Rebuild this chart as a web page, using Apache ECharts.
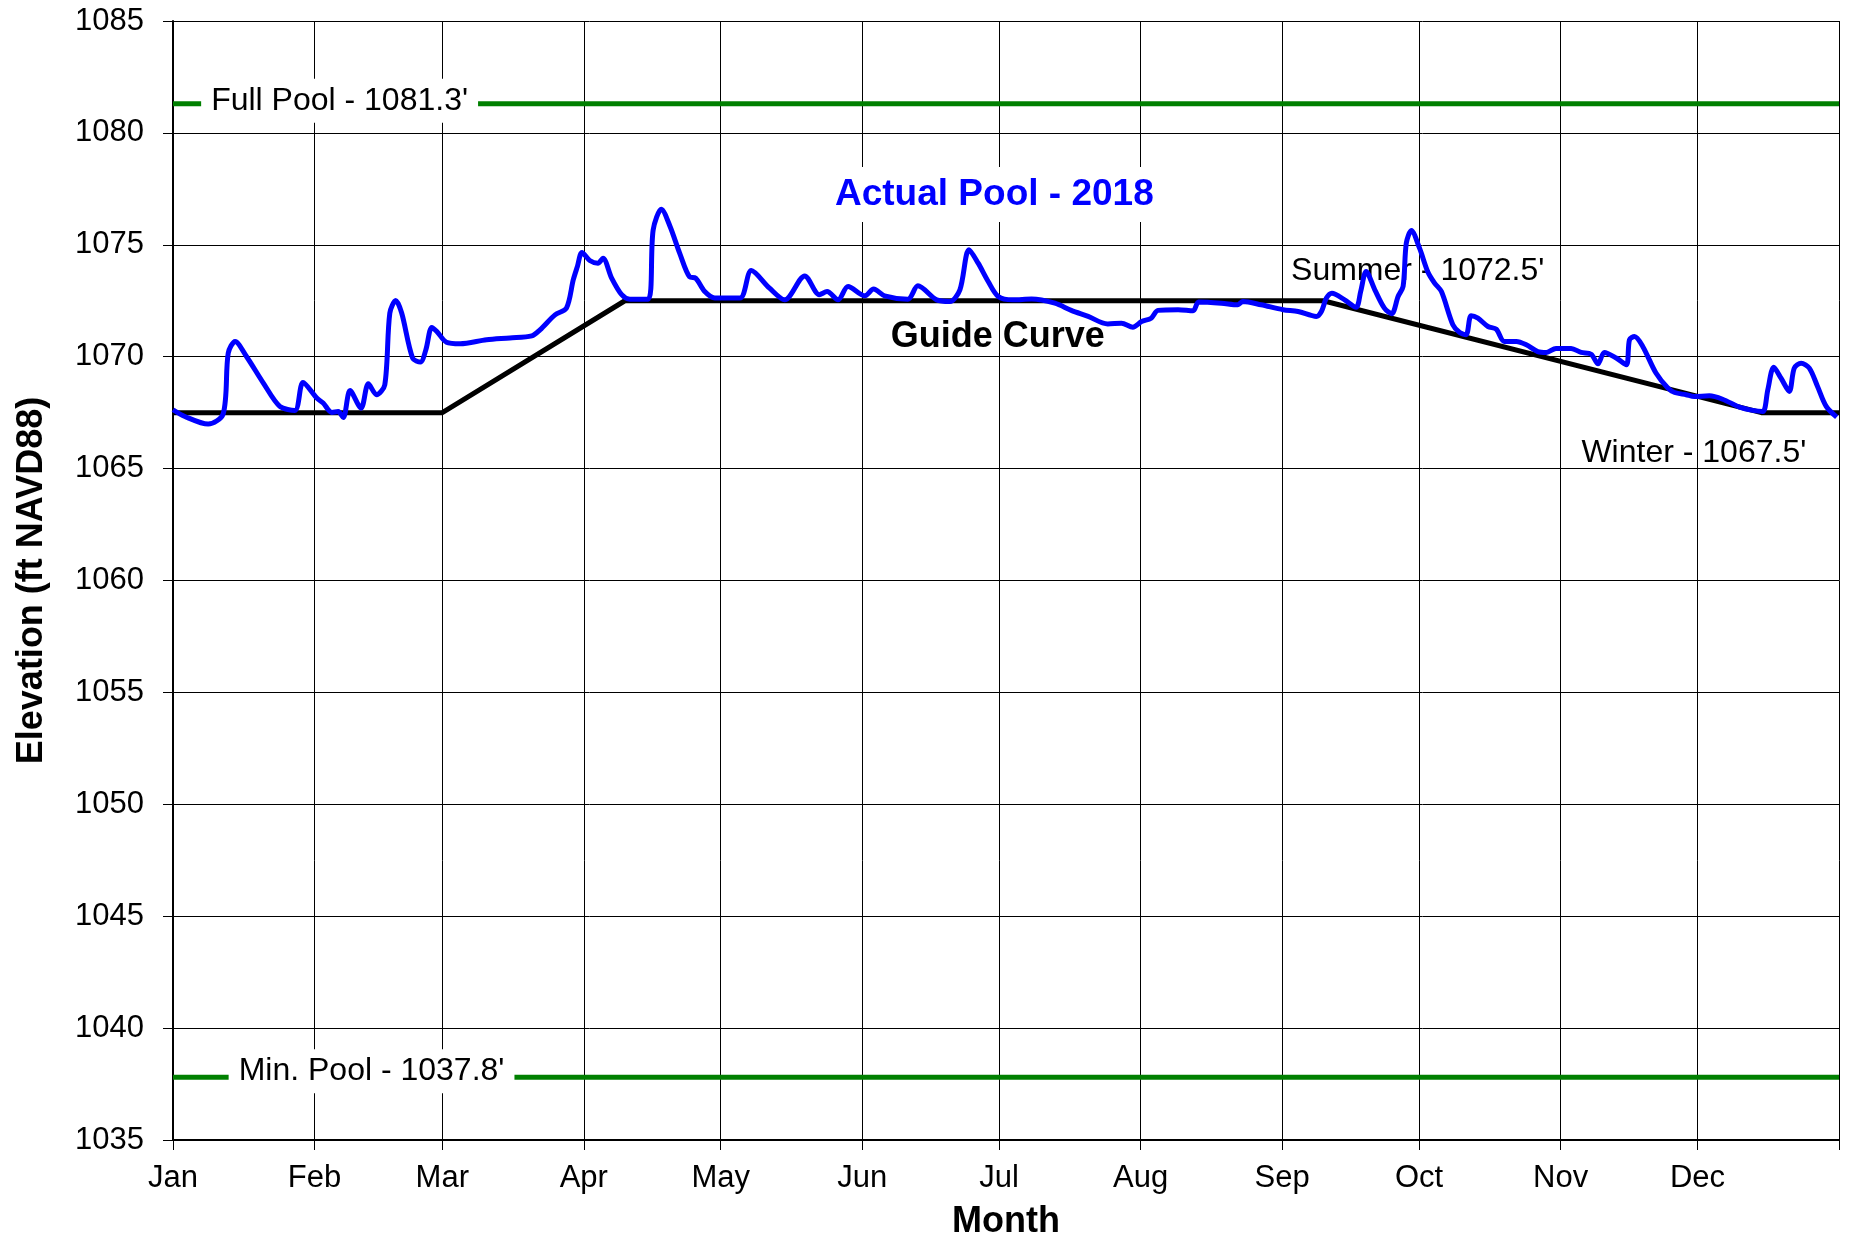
<!DOCTYPE html>
<html>
<head>
<meta charset="utf-8">
<script src="https://cdn.jsdelivr.net/npm/echarts@6/dist/echarts.min.js"></script>
<style>
html,body{margin:0;padding:0;background:#fff;}
#chart{width:1849px;height:1241px;}
</style>
</head>
<body>
<div id="chart"></div>
<script>
// ---- Data ----
const monthLabels = ['Jan','Feb','Mar','Apr','May','Jun','Jul','Aug','Sep','Oct','Nov','Dec'];
const monthStartDays = [0,31,59,90,120,151,181,212,243,273,304,334];
const yearEndDay = 365;

const yMin = 1035, yMax = 1085, yStep = 5;

const fullPoolElev = 1081.3;
const minPoolElev = 1037.8;

const guideDays = [0, 59, 99, 252, 348, 365];
const guideElev = [1067.5, 1067.5, 1072.5, 1072.5, 1067.5, 1067.5];

const poolDays = [
  0, 2.6, 7.7, 11.0, 12.1, 13.6, 16.1, 19.8, 23.4, 26.7,
  28.5, 31.5, 32.9, 34.8, 36.2, 37.3, 38.8, 41.2, 42.8, 44.6,
  46.4, 47.5, 48.8, 50.1, 52.5, 54.2, 55.4, 56.7, 57.8, 59.9,
  62.9, 68.7, 73.8, 78.6, 80.4, 83.7, 86.2, 87.7, 88.6, 89.6,
  91.3, 93.1, 94.2, 96.1, 98.3, 100.1, 104.1, 105.2, 107.0, 108.9,
  111.0, 113.2, 114.5, 116.5, 118.7, 124.2, 126.7, 130.7, 134.0, 138.4,
  141.6, 143.3, 145.7, 147.9, 151.6, 153.5, 155.9, 161.0, 163.2, 167.3,
  170.2, 172.4, 174.4, 176.4, 178.6, 180.8, 184.0, 188.1, 193.2, 196.8,
  200.5, 204.8, 207.8, 210.3, 212.2, 214.3, 215.8, 220.2, 223.5, 224.7,
  229.7, 233.3, 234.4, 238.4, 243.2, 246.5, 250.5, 251.6, 252.7, 253.9,
  256.7, 259.2, 260.2, 261.4, 263.3, 265.4, 267.0, 268.4, 269.5, 270.2,
  271.3, 273.1, 274.9, 276.4, 277.9, 280.4, 281.9, 283.3, 284.4, 285.9,
  288.1, 289.9, 291.7, 294.3, 296.5, 299.0, 300.9, 303.0, 306.3, 308.5,
  310.7, 312.2, 313.6, 316.2, 318.4, 319.1, 320.2, 322.0, 324.9, 327.5,
  329.0, 331.5, 333.3, 336.6, 339.5, 343.2, 346.1, 348.3, 349.4, 350.7,
  352.3, 354.1, 355.2, 356.7, 358.5, 360.3, 362.2, 364.5
];
const poolElev = [
  1067.63, 1067.33, 1066.99, 1067.45, 1070.16, 1070.68, 1070.01, 1068.82, 1067.78, 1067.60,
  1068.85, 1068.15, 1067.93, 1067.51, 1067.55, 1067.28, 1068.49, 1067.70, 1068.79, 1068.30,
  1068.74, 1071.95, 1072.51, 1071.95, 1069.94, 1069.76, 1070.31, 1071.31, 1071.13, 1070.65,
  1070.58, 1070.76, 1070.84, 1070.93, 1071.20, 1071.87, 1072.17, 1073.44, 1074.03, 1074.66,
  1074.30, 1074.18, 1074.40, 1073.51, 1072.77, 1072.57, 1072.57, 1075.67, 1076.59, 1075.82,
  1074.63, 1073.56, 1073.51, 1072.91, 1072.62, 1072.62, 1073.85, 1073.06, 1072.54, 1073.61,
  1072.77, 1072.91, 1072.54, 1073.14, 1072.72, 1073.02, 1072.72, 1072.57, 1073.17, 1072.54,
  1072.47, 1072.99, 1074.78, 1074.18, 1073.36, 1072.69, 1072.54, 1072.58, 1072.39, 1072.07,
  1071.80, 1071.46, 1071.50, 1071.32, 1071.57, 1071.72, 1072.07, 1072.10, 1072.05, 1072.44,
  1072.39, 1072.32, 1072.47, 1072.32, 1072.10, 1072.02, 1071.80, 1072.02, 1072.62, 1072.84,
  1072.54, 1072.21, 1072.91, 1073.81, 1072.99, 1072.17, 1071.92, 1072.69, 1073.14, 1075.07,
  1075.64, 1074.85, 1073.80, 1073.29, 1072.91, 1071.43, 1071.08, 1070.98, 1071.83, 1071.72,
  1071.35, 1071.23, 1070.68, 1070.68, 1070.53, 1070.23, 1070.19, 1070.37, 1070.37, 1070.19,
  1070.11, 1069.68, 1070.19, 1069.94, 1069.64, 1070.76, 1070.90, 1070.46, 1069.27, 1068.60,
  1068.40, 1068.30, 1068.22, 1068.25, 1068.10, 1067.75, 1067.60, 1067.55, 1068.52, 1069.53,
  1069.04, 1068.45, 1069.49, 1069.71, 1069.49, 1068.67, 1067.78, 1067.30
];

// Text annotations anchored in data space (day, elevation)
const poolLabelTexts = ["Full Pool - 1081.3'", "Min. Pool - 1037.8'"];
const poolLabelDays = [36.5, 43.5];
const poolLabelElev = [fullPoolElev, minPoolElev];

const noteTexts = ['Guide Curve', "Summer - 1072.5'", "Winter - 1067.5'"];
const noteDays = [180.7, 272.7, 333.2];
const noteElev = [1070.88, 1073.80, 1065.70];

const titleText = 'Actual Pool - 2018';

// ---- Build ----
const FONT = "'Liberation Sans', Arial, sans-serif";
const zip = (xs, ys) => xs.map((x, i) => [x, ys[i]]);

const chart = echarts.init(document.getElementById('chart'), null, {renderer: 'canvas'});

const option = {
  backgroundColor: '#ffffff',
  animation: false,
  textStyle: {fontFamily: FONT, color: '#000'},
  title: {
    text: titleText,
    left: 826,
    top: 167,
    padding: [9, 9],
    backgroundColor: '#ffffff',
    textStyle: {fontFamily: FONT, fontSize: 37, fontWeight: 'bold', color: '#0000ff'},
    z: 10
  },
  grid: {left: 173, top: 21, right: 10, bottom: 101, containLabel: false, outerBoundsMode: 'none'},
  xAxis: {
    type: 'value',
    min: 0,
    max: yearEndDay,
    name: 'Month',
    nameLocation: 'middle',
    nameGap: 64,
    nameTextStyle: {fontFamily: FONT, fontSize: 36, fontWeight: 'bold', color: '#000'},
    axisLine: {show: true, onZero: false, lineStyle: {color: '#000', width: 2}},
    axisTick: {show: true, inside: false, length: 10, customValues: monthStartDays.concat([yearEndDay]), lineStyle: {color: '#000', width: 1}},
    axisLabel: {
      show: true,
      customValues: monthStartDays,
      margin: 23,
      fontFamily: FONT, fontSize: 31, color: '#000',
      formatter: v => monthLabels[monthStartDays.indexOf(Math.round(v))] || ''
    },
    splitLine: {show: true, lineStyle: {color: '#000', width: 1}}
  },
  yAxis: {
    type: 'value',
    min: yMin,
    max: yMax,
    interval: yStep,
    name: 'Elevation (ft NAVD88)',
    nameLocation: 'middle',
    nameGap: 123,
    nameTextStyle: {fontFamily: FONT, fontSize: 36, fontWeight: 'bold', color: '#000'},
    axisLine: {show: true, onZero: false, lineStyle: {color: '#000', width: 2}},
    axisTick: {show: true, inside: false, length: 10, lineStyle: {color: '#000', width: 1}},
    axisLabel: {margin: 29, fontFamily: FONT, fontSize: 31, color: '#000', formatter: v => String(v)},
    splitLine: {show: true, lineStyle: {color: '#000', width: 1}}
  },
  series: [
    {
      name: 'Full Pool', type: 'line', z: 1, silent: true, symbol: 'none',
      lineStyle: {color: '#008000', width: 5},
      data: [[0, fullPoolElev], [yearEndDay, fullPoolElev]]
    },
    {
      name: 'Min Pool', type: 'line', z: 1, silent: true, symbol: 'none',
      lineStyle: {color: '#008000', width: 5},
      data: [[0, minPoolElev], [yearEndDay, minPoolElev]]
    },
    {
      name: 'Pool labels', type: 'scatter', z: 2, silent: true,
      symbolSize: 1, itemStyle: {color: 'rgba(0,0,0,0)', opacity: 1},
      label: {
        show: true, position: 'inside', opacity: 1,
        formatter: p => poolLabelTexts[p.dataIndex],
        fontFamily: FONT, fontSize: 32, color: '#000',
        backgroundColor: '#ffffff', padding: [6, 10]
      },
      data: poolLabelDays.map((d, i) => ({
        value: [d, poolLabelElev[i]],
        label: {offset: [0, i === 0 ? -3 : -6]}
      }))
    },
    {
      name: 'Guide Curve', type: 'line', z: 3, silent: true, symbol: 'none',
      lineStyle: {color: '#000', width: 5},
      data: zip(guideDays, guideElev)
    },
    {
      name: 'Notes', type: 'scatter', z: 3, silent: true,
      symbolSize: 1, itemStyle: {color: 'rgba(0,0,0,0)', opacity: 1},
      label: {
        show: true, position: 'inside', opacity: 1,
        formatter: p => noteTexts[p.dataIndex],
        fontFamily: FONT, fontSize: 32, color: '#000'
      },
      data: noteDays.map((d, i) => ({
        value: [d, noteElev[i]],
        label: i === 0 ? {fontWeight: 'bold', fontSize: 36} : {}
      }))
    },
    {
      name: 'Actual Pool - 2018', type: 'line', z: 4, silent: true, symbol: 'none',
      smooth: 0.3,
      lineStyle: {color: '#0000ff', width: 5},
      data: zip(poolDays, poolElev)
    }
  ]
};
chart.setOption(option);
</script>
</body>
</html>
